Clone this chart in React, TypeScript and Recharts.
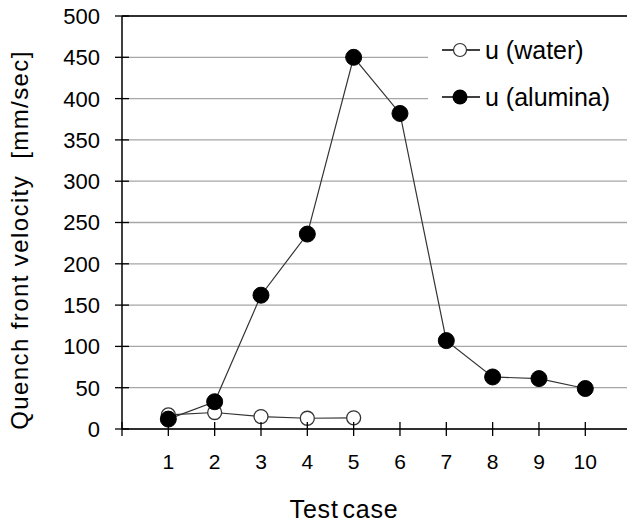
import React from 'react';
import { LineChart, Line, XAxis, YAxis, CartesianGrid, ReferenceLine, Legend } from 'recharts';

const testCases = [1, 2, 3, 4, 5, 6, 7, 8, 9, 10];
const waterValues = [17, 20, 15, 13, 13.5, null, null, null, null, null];
const aluminaValues = [12, 33, 162, 236, 450, 382, 107, 63, 61, 49];
const xTicks = [0, 1, 2, 3, 4, 5, 6, 7, 8, 9, 10];
const yTicks = [0, 50, 100, 150, 200, 250, 300, 350, 400, 450, 500];

const data = testCases.map((c, i) => ({ x: c, water: waterValues[i], alumina: aluminaValues[i] }));

const FONT = 'Liberation Sans, Arial, sans-serif';

const XTick = (props: any) => {
  const { x, y, payload } = props;
  return (
    <g>
      <line x1={x} x2={x} y1={y - 7} y2={y + 7} stroke="#000" strokeWidth={1.3} />
      {payload.value > 0 && (
        <text x={x} y={y + 40} textAnchor="middle" fontSize={21} fontFamily={FONT} fill="#000">
          {payload.value}
        </text>
      )}
    </g>
  );
};

const YTick = (props: any) => {
  const { x, y, payload } = props;
  return (
    <g>
      <line x1={x - 7} x2={x + 7} y1={y} y2={y} stroke="#000" strokeWidth={1.3} />
      <text x={x - 22} y={y} dy="0.36em" textAnchor="end" fontSize={22} fontFamily={FONT} fill="#000">
        {payload.value}
      </text>
    </g>
  );
};

const YLabel = () => (
  <text
    transform="translate(28,240) rotate(-90)"
    textAnchor="middle"
    fontSize={24}
    fontFamily={FONT}
    letterSpacing={1.4}
    fill="#000"
  >
    {'Quench front velocity\u00A0\u00A0[mm/sec]'}
  </text>
);

const XLabel = () => (
  <text x={344} y={518} textAnchor="middle" fontSize={25} fontFamily={FONT} letterSpacing={0.8} wordSpacing={-4} fill="#000">
    Test case
  </text>
);

const LegendContent = () => (
  <svg width={199} height={92} style={{ display: 'block' }}>
    <rect x={0} y={0} width={199} height={92} fill="#fff" />
    <line x1={14} x2={52} y1={24} y2={24} stroke="#000" strokeWidth={1.3} />
    <circle cx={32} cy={24} r={6.5} fill="#fff" stroke="#333" strokeWidth={1.2} />
    <text x={57} y={24} dy="0.36em" fontSize={25} fontFamily={FONT} fill="#000">u (water)</text>
    <line x1={14} x2={52} y1={71} y2={71} stroke="#000" strokeWidth={1.3} />
    <circle cx={32} cy={71} r={7.5} fill="#000" />
    <text x={57} y={71} dy="0.36em" fontSize={25} fontFamily={FONT} fill="#000">u (alumina)</text>
  </svg>
);

export default function App() {
  return (
    <div style={{ position: 'absolute', left: 0, top: 0, width: 627, height: 522, background: '#fff' }}>
      <LineChart width={627} height={522} data={data} margin={{ top: 16, right: 0, left: 0, bottom: 0 }}>
        <CartesianGrid horizontal vertical={false} stroke="#a6a6a6" strokeWidth={1.3} />
        <ReferenceLine y={500} stroke="#000" strokeWidth={1.5} />
        <XAxis
          type="number"
          dataKey="x"
          domain={[0, 10.9]}
          ticks={xTicks}
          allowDataOverflow
          height={93}
          tickSize={0}
          tickMargin={0}
          tickLine={false}
          axisLine={{ stroke: '#000', strokeWidth: 1.5 }}
          tick={<XTick />}
          interval={0}
          label={<XLabel />}
        />
        <YAxis
          type="number"
          domain={[0, 500]}
          ticks={yTicks}
          width={122}
          tickSize={0}
          tickMargin={0}
          tickLine={false}
          axisLine={{ stroke: '#000', strokeWidth: 1.5 }}
          tick={<YTick />}
          interval={0}
          label={<YLabel />}
        />
        <Legend
          layout="vertical"
          align="center"
          verticalAlign="middle"
          content={<LegendContent />}
          wrapperStyle={{ left: 428, top: 26, width: 199, height: 92 }}
        />
        <Line
          dataKey="water"
          name="u (water)"
          stroke="#333"
          strokeWidth={1.2}
          isAnimationActive={false}
          connectNulls={false}
          dot={{ r: 7, fill: '#fff', stroke: '#333', strokeWidth: 1.3 }}
          activeDot={false}
        />
        <Line
          dataKey="alumina"
          name="u (alumina)"
          stroke="#333"
          strokeWidth={1.2}
          isAnimationActive={false}
          dot={{ r: 8, fill: '#000', stroke: '#000', strokeWidth: 1 }}
          activeDot={false}
        />
      </LineChart>
    </div>
  );
}
